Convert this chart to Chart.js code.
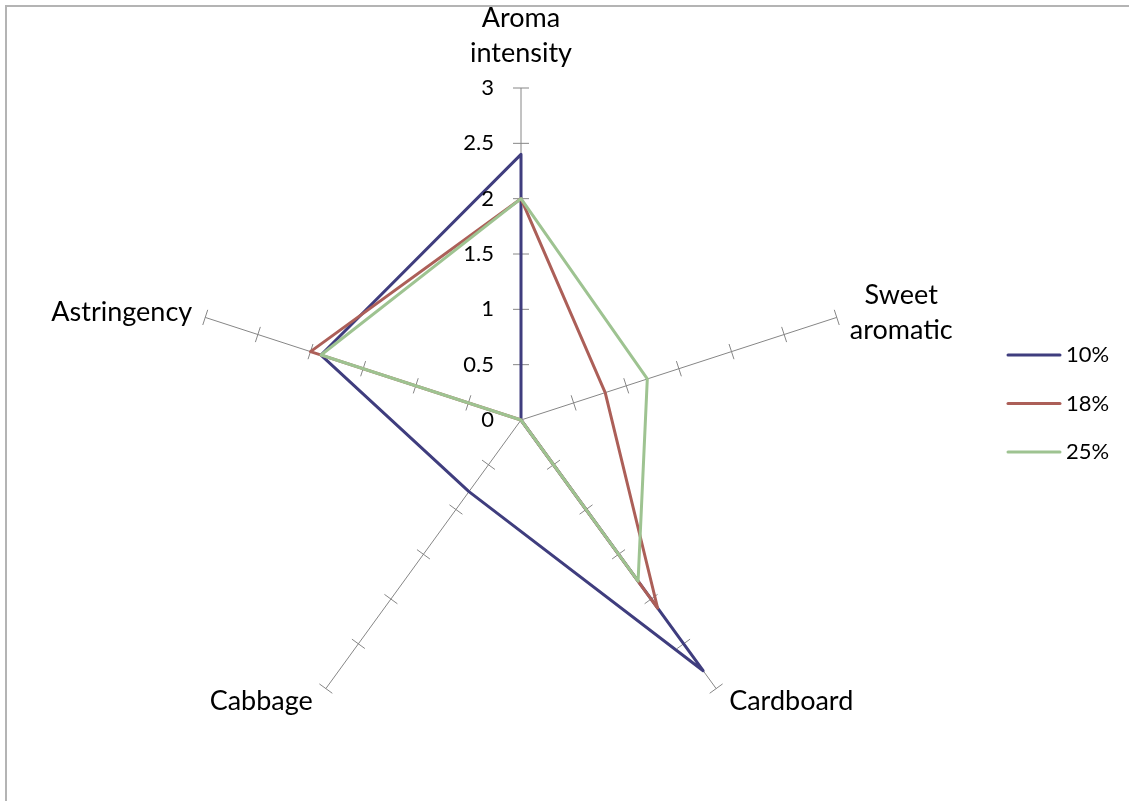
<!DOCTYPE html>
<html>
<head>
<meta charset="utf-8">
<script src="https://cdn.jsdelivr.net/npm/chart.js@4"></script>
<style>
  html, body { margin: 0; padding: 0; background: #fff; overflow: hidden; }
  #frame { position: absolute; left: 5px; top: 5px; width: 2000px; height: 2000px; border: 2px solid #b4b4b4; }
  #radar { position: absolute; left: 0; top: 0; }
</style>
</head>
<body>
<div id="frame"></div>
<canvas id="radar" width="1129" height="801"></canvas>
<script>
var categories = [["Aroma", "intensity"], ["Sweet", "aromatic"], "Cardboard", "Cabbage", "Astringency"];
var seriesNames = ["10%", "18%", "25%"];
var values10 = [2.4, 0, 2.8, 0.8, 1.9];
var values18 = [2.0, 0.8, 2.1, 0, 2.0];
var values25 = [2.0, 1.2, 1.8, 0, 1.9];
var tickValues = [0, 0.5, 1, 1.5, 2, 2.5, 3];
var colors = ["#3f3d7e", "#ac5f58", "#9ec391"];

var fontFamily = "Lato, 'Open Sans', sans-serif";

// spokes tick marks, value labels, category labels and legend
var decorations = {
  id: "decorations",
  beforeDatasetsDraw(chart) {
    var scale = chart.scales.r;
    var ctx = chart.ctx;
    ctx.save();
    ctx.strokeStyle = "#868686";
    ctx.lineWidth = 1;
    for (var i = 0; i < categories.length; i++) {
      var a = scale.getIndexAngle(i) - Math.PI / 2;
      var px = -Math.sin(a), py = Math.cos(a);
      for (var t = 1; t < tickValues.length; t++) {
        var p = scale.getPointPositionForValue(i, tickValues[t]);
        ctx.beginPath();
        ctx.moveTo(p.x - px * 8, p.y - py * 8);
        ctx.lineTo(p.x + px * 8, p.y + py * 8);
        ctx.stroke();
      }
    }
    ctx.restore();
  },
  afterDraw(chart) {
    var scale = chart.scales.r;
    var ctx = chart.ctx;
    ctx.save();
    ctx.fillStyle = "#000";

    // value axis labels
    ctx.font = "22px " + fontFamily;
    ctx.textAlign = "right";
    ctx.textBaseline = "middle";
    tickValues.forEach(function (v) {
      var p = scale.getPointPositionForValue(0, v);
      ctx.fillText(String(v), p.x - 27, p.y);
    });

    // category labels
    ctx.font = "27px " + fontFamily;
    var lh = 35;
    for (var i = 0; i < categories.length; i++) {
      var lines = [].concat(categories[i]);
      var end = scale.getPointPosition(i, scale.drawingArea);
      var w = Math.max.apply(null, lines.map(function (s) { return ctx.measureText(s).width; }));
      var cx, cy;
      if (Math.abs(end.x - scale.xCenter) < 2) {
        cx = end.x;
        cy = end.y - 35 - (lines.length - 1) * lh / 2;
      } else if (end.x > scale.xCenter) {
        cx = end.x + 13 + w / 2;
        cy = end.y + (end.y < scale.yCenter ? -5 : 13);
      } else {
        cx = end.x - 13 - w / 2;
        cy = end.y + (end.y < scale.yCenter ? -5 : 13);
      }
      ctx.textAlign = "center";
      lines.forEach(function (s, k) {
        ctx.fillText(s, cx, cy + (k - (lines.length - 1) / 2) * lh);
      });
    }

    // legend
    ctx.font = "22px " + fontFamily;
    ctx.textAlign = "left";
    ctx.lineWidth = 3;
    ctx.lineCap = "round";
    chart.data.datasets.forEach(function (ds, k) {
      var y = 355 + k * 48.5;
      ctx.strokeStyle = ds.borderColor;
      ctx.beginPath();
      ctx.moveTo(1008, y);
      ctx.lineTo(1060, y);
      ctx.stroke();
      ctx.fillText(ds.label, 1066, y);
    });
    ctx.restore();
  }
};

new Chart(document.getElementById("radar"), {
  type: "radar",
  data: {
    labels: categories,
    datasets: [
      { label: seriesNames[0], data: values10, borderColor: colors[0], order: 3 },
      { label: seriesNames[1], data: values18, borderColor: colors[1], order: 2 },
      { label: seriesNames[2], data: values25, borderColor: colors[2], order: 1 }
    ]
  },
  options: {
    responsive: false,
    animation: false,
    layout: { padding: { left: 189, right: 276, top: 88, bottom: 49 } },
    elements: {
      line: { borderWidth: 3, fill: false, tension: 0, borderJoinStyle: "round" },
      point: { radius: 0, hoverRadius: 0 }
    },
    plugins: { legend: { display: false }, tooltip: { enabled: false } },
    scales: {
      r: {
        min: 0,
        max: 3,
        ticks: { display: false, stepSize: 0.5 },
        grid: { display: false },
        angleLines: { display: true, color: "#868686", lineWidth: 1 },
        pointLabels: { display: false }
      }
    }
  },
  plugins: [decorations]
});
</script>
</body>
</html>
